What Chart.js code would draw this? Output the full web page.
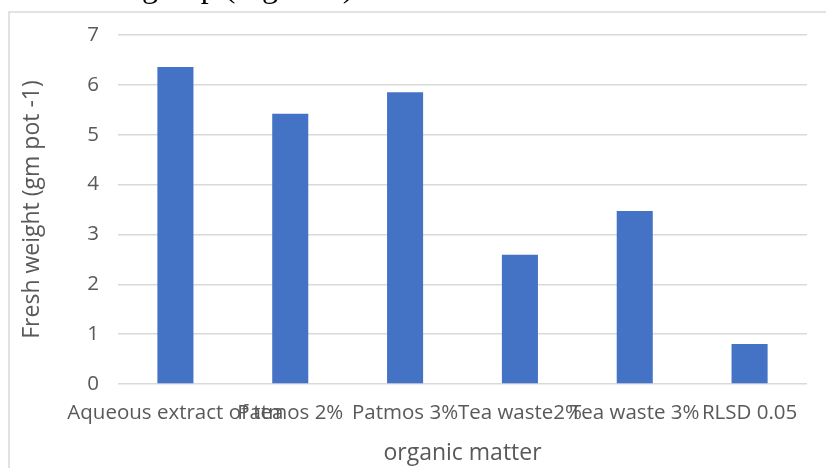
<!DOCTYPE html>
<html>
<head>
<meta charset="utf-8">
<script src="https://cdn.jsdelivr.net/npm/chart.js@4/dist/chart.umd.min.js"></script>
<style>
  html, body { margin: 0; padding: 0; background: #ffffff; }
  canvas { display: block; }
</style>
</head>
<body>
<canvas id="chart" width="826" height="468"></canvas>
<script>
// Treatments (organic matter) and fresh weight per pot
const categories = ["Aqueous extract of tea", "Patmos 2%", "Patmos 3%", "Tea waste2%", "Tea waste 3%", "RLSD 0.05"];
const freshWeight = [6.36, 5.42, 5.85, 2.59, 3.47, 0.80];
const yTicks = [0, 1, 2, 3, 4, 5, 6, 7];
const captionLine = "group (Figure 1)";

const textColor = "#595959";
const gridColor = "#d9d9d9";
const fontFamily = "'Open Sans', 'Noto Sans', sans-serif";

// page text running above the chart, and the light frame of the chart object
const framePlugin = {
  id: "frame",
  beforeDraw(chart) {
    const ctx = chart.ctx;
    ctx.save();
    ctx.fillStyle = "#ffffff";
    ctx.fillRect(0, 0, chart.width, chart.height);
    ctx.fillStyle = "#000000";
    ctx.font = "32px 'Liberation Serif', 'DejaVu Serif', serif";
    ctx.textBaseline = "alphabetic";
    ctx.textAlign = "left";
    ctx.fillText(captionLine, 142, -3);
    ctx.strokeStyle = gridColor;
    ctx.lineWidth = 1.5;
    ctx.beginPath();
    ctx.moveTo(9, 468);
    ctx.lineTo(9, 12);
    ctx.lineTo(826, 12);
    ctx.stroke();
    ctx.restore();
  }
};

new Chart(document.getElementById("chart"), {
  type: "bar",
  data: {
    labels: categories,
    datasets: [{
      data: freshWeight,
      backgroundColor: "#4472c4",
      borderWidth: 0,
      categoryPercentage: 1.0,
      barPercentage: 0.314
    }]
  },
  options: {
    responsive: false,
    animation: false,
    layout: { padding: { left: 10, right: 19, top: 35, bottom: 0 } },
    plugins: { legend: { display: false }, tooltip: { enabled: false } },
    scales: {
      x: {
        grid: { display: false, drawTicks: false },
        border: { display: false },
        ticks: {
          autoSkip: false, maxRotation: 0, minRotation: 0,
          color: textColor, padding: 17,
          font: { family: fontFamily, size: 20.5 }
        },
        title: {
          display: true, text: "organic matter", color: textColor,
          font: { family: fontFamily, size: 23 },
          padding: { top: 0, bottom: 1 }
        },
        afterFit(scale) { scale.height = 84; }
      },
      y: {
        min: 0, max: 7,
        afterBuildTicks(scale) { scale.ticks = yTicks.map(v => ({ value: v })); },
        grid: { color: gridColor, lineWidth: 1.5, drawTicks: false },
        border: { display: false },
        ticks: {
          color: textColor, padding: 19,
          font: { family: fontFamily, size: 20.5 }
        },
        title: {
          display: true, text: "Fresh weight (gm pot -1)", color: textColor,
          font: { family: fontFamily, size: 23 },
          padding: { top: 9, bottom: 0 }
        },
        afterFit(scale) { scale.width = 108; }
      }
    }
  },
  plugins: [framePlugin]
});
</script>
</body>
</html>
